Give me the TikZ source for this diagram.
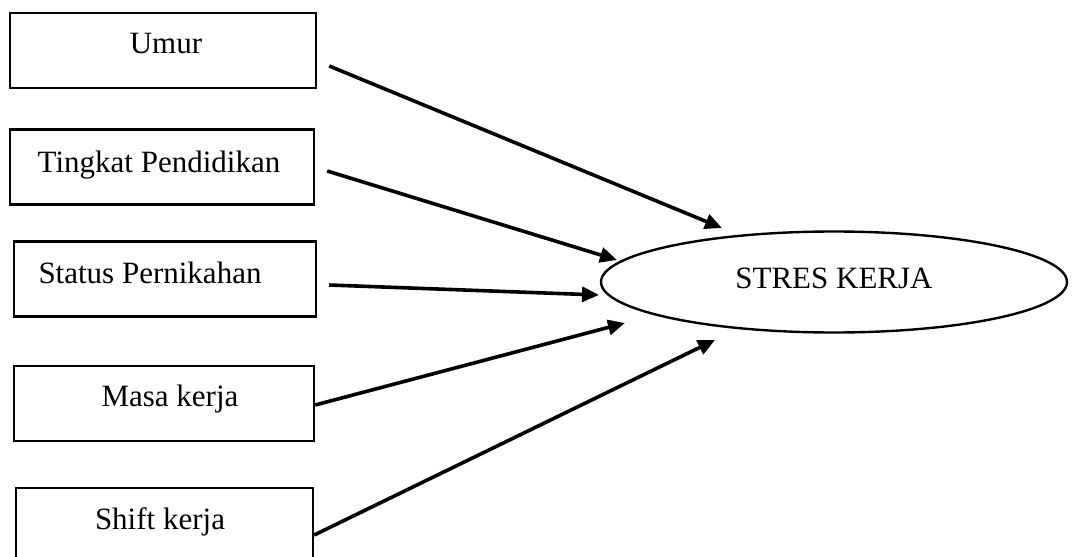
\documentclass[tikz,border=0pt]{standalone}
\usepackage{fontspec}
\setmainfont{Liberation Serif}
\usepackage{tikz}
\usetikzlibrary{calc}
\usetikzlibrary{arrows.meta}
\usetikzlibrary{shapes.geometric}
\tikzset{>=latex}
\tikzstyle{var} = [rectangle, draw=black, line width=2.4pt, minimum height=75pt, inner sep=0pt]
\tikzstyle{lbl} = [anchor=base, inner sep=0pt]
\tikzstyle{arr} = [-{Triangle[length=17pt, width=15pt]}, line width=3.6pt]

\begin{document}
\begin{tikzpicture}[x=1pt, y=-1pt, font=\fontsize{31}{37}\selectfont]
\useasboundingbox (0, 0) rectangle (1072, 557);
% variabel bebas
\node [var, minimum width=306pt] (umur) at (163, 50.5) {};
\node [lbl] (umur-t) at (166, 53) {Umur};
\node [var, minimum width=304pt] (didik) at (162, 167) {};
\node [lbl] (didik-t) at (159, 172) {Tingkat Pendidikan};
\node [var, minimum width=302pt] (nikah) at (165, 279) {};
\node [lbl] (nikah-t) at (150, 283) {Status Pernikahan};
\node [var, minimum width=300pt] (masa) at (164, 403.5) {};
\node [lbl] (masa-t) at (170, 406.5) {Masa kerja};
\node [var, minimum width=297pt] (shift) at (164.5, 525.5) {};
\node [lbl] (shift-t) at (160, 529) {Shift kerja};
% variabel terikat
\node [ellipse, draw=black, line width=2.4pt, minimum width=466pt, minimum height=101pt, text depth=8pt] (stres) at (834, 282) {STRES KERJA};
\coordinate (in1) at ($(stres.center)+(-112, -54)$);
\coordinate (in2) at ($(stres.center)+(-217, -22)$);
\coordinate (in3) at ($(stres.center)+(-235, 13)$);
\coordinate (in4) at ($(stres.center)+(-209, 41)$);
\coordinate (in5) at ($(stres.center)+(-119, 58)$);
\draw [arr] ($(umur.east)+(12, 15.5)$) -- (in1);
\draw [arr] ($(didik.east)+(12, 4)$) -- (in2);
\draw [arr] ($(nikah.east)+(12, 6)$) -- (in3);
\draw [arr] ($(masa.east)+(0, 1.5)$) -- (in4);
\draw [arr] ($(shift.east)+(0, 9.5)$) -- (in5);
\end{tikzpicture}
\end{document}
